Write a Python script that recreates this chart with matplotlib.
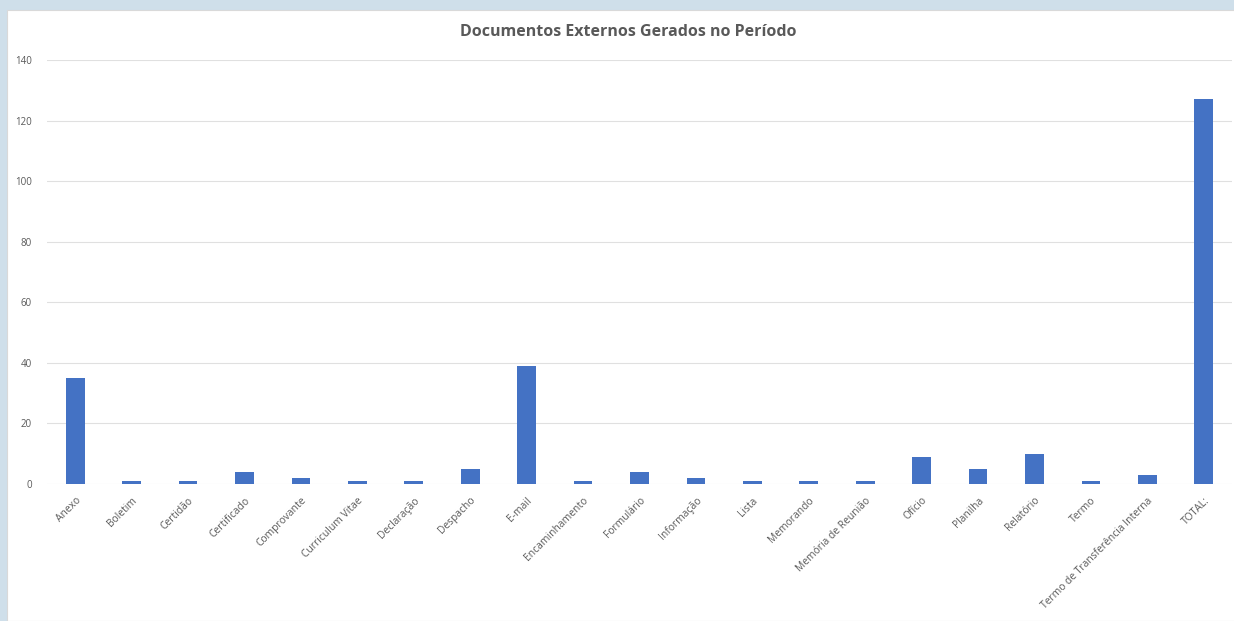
import matplotlib
matplotlib.use('Agg')
import matplotlib.pyplot as plt
from matplotlib.patches import Rectangle

# dados
categorias = ['Anexo', 'Boletim', 'Certidão', 'Certificado', 'Comprovante', 'Curriculum Vitae',
              'Declaração', 'Despacho', 'E-mail', 'Encaminhamento', 'Formulário', 'Informação',
              'Lista', 'Memorando', 'Memória de Reunião', 'Ofício', 'Planilha', 'Relatório',
              'Termo', 'Termo de Transferência Interna', 'TOTAL:']
quantidades = [35, 1, 1, 4, 2, 1, 1, 5, 39, 1, 4, 2, 1, 1, 1, 9, 5, 10, 1, 3, 127]
yticks = [0, 20, 40, 60, 80, 100, 120, 140]

plt.rcParams['font.family'] = ['Open Sans', 'DejaVu Sans']

fig = plt.figure(figsize=(12.34, 6.21), dpi=100)
fig.patch.set_facecolor('#cfdfea')
# área branca do gráfico
fig.patches.append(Rectangle((7 / 1234, 0), 1, 1 - 10 / 621, transform=fig.transFigure,
                             facecolor='white', edgecolor='#d9d9d9', lw=0.8, zorder=-5))

ax = fig.add_axes([47 / 1234, 1 - 484 / 621, 1185 / 1234, 424 / 621])
ax.set_zorder(2)
ax.set_facecolor('none')
x = range(len(categorias))
ax.bar(x, quantidades, width=0.33, color='#4472c4', zorder=3)

ax.set_xlim(-0.5, len(categorias) - 0.5)
ax.set_ylim(0, 140)
ax.set_yticks(yticks)
ax.set_yticklabels([str(v) for v in yticks], fontsize=7, color='#595959')
ax.set_xticks(list(x))
ax.set_xticklabels(categorias, rotation=45, ha='right', rotation_mode='anchor',
                   fontsize=7.4, color='#595959')
ax.tick_params(axis='x', length=0, pad=8)
ax.tick_params(axis='y', length=0, pad=11)
ax.grid(axis='y', color='#e0e0e0', lw=0.8, zorder=0)
for s in ax.spines.values():
    s.set_visible(False)

fig.text(628 / 1234, 1 - 32 / 621, 'Documentos Externos Gerados no Período', ha='center',
         va='center', fontsize=11.5, fontweight='bold', color='#595959', zorder=3)

plt.savefig('out.png', dpi=100, facecolor=fig.get_facecolor())
